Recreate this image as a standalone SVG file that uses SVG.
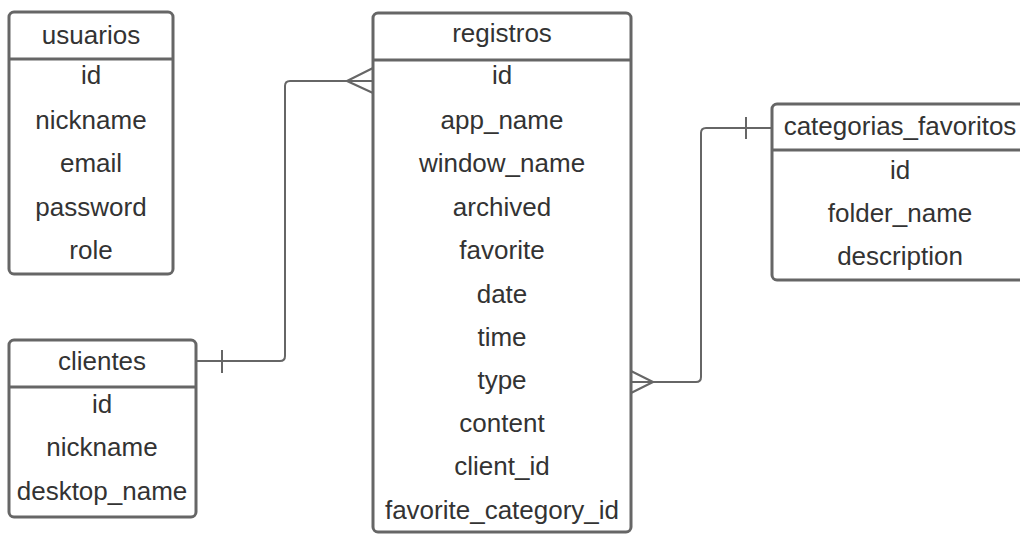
<svg xmlns="http://www.w3.org/2000/svg" width="1020" height="534" viewBox="0 0 1020 534">
<style>
.box{fill:#fff;stroke:#666;stroke-width:3}
.div{stroke:#666;stroke-width:3}
.t{font-family:"Liberation Sans",Arial,sans-serif;font-size:26px;fill:#333;text-anchor:middle}
.c{fill:none;stroke:#666;stroke-width:2}
</style>
<rect width="1020" height="534" fill="#fff"/>
<g id="connectors">
<path class="c" d="M196 361 H280 Q285 361 285 356 V86 Q285 81 290 81 H373"/>
<path class="c" d="M222 350 V373"/>
<path class="c" d="M347 81 L373 68 M347 81 L373 93"/>
<path class="c" d="M631 382 H696 Q701 382 701 377 V133 Q701 128 706 128 H772"/>
<path class="c" d="M746 117 V139"/>
<path class="c" d="M653 382 L631 371 M653 382 L631 393"/>
</g>
<g id="usuarios">
<rect class="box" x="9" y="12" width="164" height="262" rx="5"/>
<line class="div" x1="9" y1="59" x2="173" y2="59"/>
<text class="t" x="91" y="44">usuarios</text>
<text class="t" x="91" y="84">id</text>
<text class="t" x="91" y="129">nickname</text>
<text class="t" x="91" y="172">email</text>
<text class="t" x="91" y="216">password</text>
<text class="t" x="91" y="259">role</text>
</g>
<g id="clientes">
<rect class="box" x="9" y="340" width="187" height="177" rx="5"/>
<line class="div" x1="9" y1="387" x2="196" y2="387"/>
<text class="t" x="102" y="370">clientes</text>
<text class="t" x="102" y="413">id</text>
<text class="t" x="102" y="456">nickname</text>
<text class="t" x="102" y="500">desktop_name</text>
</g>
<g id="registros">
<rect class="box" x="373" y="13" width="258" height="519" rx="5"/>
<line class="div" x1="373" y1="60" x2="631" y2="60"/>
<text class="t" x="502" y="42">registros</text>
<text class="t" x="502" y="84">id</text>
<text class="t" x="502" y="129">app_name</text>
<text class="t" x="502" y="172">window_name</text>
<text class="t" x="502" y="216">archived</text>
<text class="t" x="502" y="259">favorite</text>
<text class="t" x="502" y="303">date</text>
<text class="t" x="502" y="346">time</text>
<text class="t" x="502" y="389">type</text>
<text class="t" x="502" y="432">content</text>
<text class="t" x="502" y="475">client_id</text>
<text class="t" x="502" y="519">favorite_category_id</text>
</g>
<g id="categorias_favoritos">
<rect class="box" x="772" y="104" width="256" height="176" rx="5"/>
<line class="div" x1="772" y1="150" x2="1028" y2="150"/>
<text class="t" x="900" y="135">categorias_favoritos</text>
<text class="t" x="900" y="179">id</text>
<text class="t" x="900" y="222">folder_name</text>
<text class="t" x="900" y="265">description</text>
</g>
</svg>
